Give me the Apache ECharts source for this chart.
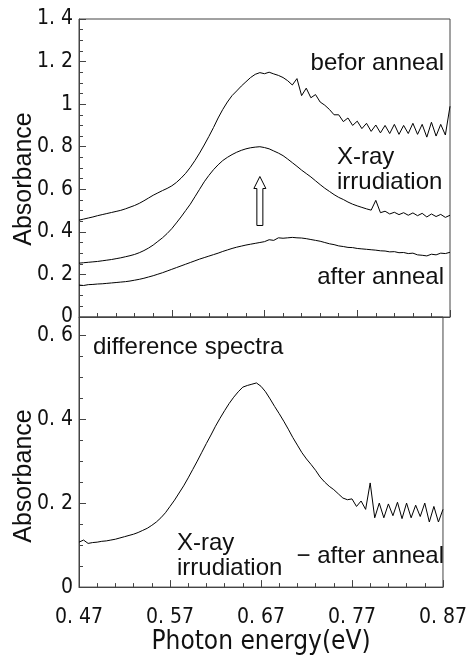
<!DOCTYPE html>
<html>
<head>
<meta charset="utf-8">
<title>Absorbance spectra</title>
<script src="https://cdn.jsdelivr.net/npm/echarts@6/dist/echarts.min.js"></script>
<style>
  html, body { margin: 0; padding: 0; background: #fff; }
  #chart { width: 470px; height: 656px; }
</style>
</head>
<body>
<div id="chart"></div>
<script>
// photon energy (eV), shared by all curves
const energy = [
  0.470, 0.475, 0.480, 0.485, 0.490, 0.495, 0.500, 0.505, 0.510, 0.515,
  0.520, 0.525, 0.530, 0.535, 0.540, 0.545, 0.550, 0.555, 0.560, 0.565,
  0.570, 0.575, 0.580, 0.585, 0.590, 0.595, 0.600, 0.605, 0.610, 0.615,
  0.620, 0.625, 0.630, 0.635, 0.640, 0.645, 0.650, 0.655, 0.660, 0.665,
  0.670, 0.675, 0.680, 0.685, 0.690, 0.695, 0.700, 0.705, 0.710, 0.715,
  0.720, 0.725, 0.730, 0.735, 0.740, 0.745, 0.750, 0.755, 0.760, 0.765,
  0.770, 0.775, 0.780, 0.785, 0.790, 0.795, 0.800, 0.805, 0.810, 0.815,
  0.820, 0.825, 0.830, 0.835, 0.840, 0.845, 0.850, 0.855, 0.860, 0.865,
  0.870
]

const beforAnneal = [
  0.455, 0.460, 0.465, 0.470, 0.476, 0.481, 0.486, 0.491, 0.496, 0.501,
  0.508, 0.516, 0.524, 0.534, 0.546, 0.559, 0.572, 0.583, 0.594, 0.604,
  0.616, 0.632, 0.652, 0.675, 0.703, 0.735, 0.770, 0.808, 0.848, 0.890,
  0.935, 0.975, 1.010, 1.040, 1.062, 1.085, 1.105, 1.125, 1.140, 1.148,
  1.143, 1.150, 1.142, 1.135, 1.125, 1.110, 1.090, 1.120, 1.040, 1.075,
  1.030, 1.045, 1.010, 0.995, 0.975, 0.950, 0.950, 0.918, 0.935, 0.900,
  0.920, 0.885, 0.910, 0.872, 0.902, 0.865, 0.900, 0.862, 0.905, 0.858,
  0.900, 0.862, 0.910, 0.858, 0.905, 0.845, 0.915, 0.850, 0.905, 0.855,
  0.990
]

const xrayIrrad = [
  0.253, 0.255, 0.257, 0.259, 0.261, 0.264, 0.267, 0.270, 0.274, 0.278,
  0.283, 0.288, 0.294, 0.302, 0.312, 0.324, 0.338, 0.355, 0.372, 0.392,
  0.415, 0.442, 0.470, 0.500, 0.530, 0.565, 0.600, 0.635, 0.665, 0.692,
  0.715, 0.735, 0.750, 0.763, 0.774, 0.783, 0.790, 0.795, 0.798, 0.800,
  0.796, 0.790, 0.780, 0.770, 0.758, 0.742, 0.725, 0.708, 0.690, 0.674,
  0.658, 0.640, 0.622, 0.605, 0.590, 0.575, 0.562, 0.552, 0.540, 0.530,
  0.522, 0.515, 0.508, 0.502, 0.548, 0.490, 0.497, 0.484, 0.492, 0.481,
  0.490, 0.478, 0.489, 0.476, 0.487, 0.470, 0.484, 0.472, 0.482, 0.468,
  0.478
]

const afterAnneal = [
  0.150, 0.148, 0.152, 0.153, 0.155, 0.156, 0.158, 0.160, 0.162, 0.164,
  0.166, 0.169, 0.173, 0.177, 0.182, 0.188, 0.194, 0.201, 0.208, 0.216,
  0.224, 0.232, 0.240, 0.248, 0.256, 0.264, 0.272, 0.279, 0.286, 0.293,
  0.300, 0.308, 0.315, 0.322, 0.328, 0.333, 0.338, 0.342, 0.346, 0.350,
  0.354, 0.363, 0.360, 0.372, 0.370, 0.372, 0.374, 0.372, 0.371, 0.368,
  0.364, 0.360, 0.356, 0.350, 0.344, 0.340, 0.334, 0.331, 0.327, 0.326,
  0.322, 0.320, 0.318, 0.316, 0.314, 0.311, 0.310, 0.306, 0.307, 0.302,
  0.303, 0.298, 0.300, 0.292, 0.290, 0.287, 0.295, 0.292, 0.300, 0.298,
  0.304
]

const difference = [
  0.107, 0.112, 0.104, 0.106, 0.107, 0.109, 0.110, 0.112, 0.114, 0.117,
  0.120, 0.123, 0.126, 0.130, 0.135, 0.140, 0.147, 0.155, 0.165, 0.177,
  0.192, 0.207, 0.224, 0.241, 0.260, 0.280, 0.300, 0.321, 0.342, 0.362,
  0.383, 0.402, 0.420, 0.437, 0.452, 0.465, 0.476, 0.480, 0.483, 0.486,
  0.478, 0.465, 0.448, 0.430, 0.413, 0.395, 0.376, 0.356, 0.338, 0.320,
  0.305, 0.292, 0.278, 0.262, 0.250, 0.240, 0.232, 0.222, 0.212, 0.208,
  0.210, 0.192, 0.205, 0.185, 0.248, 0.165, 0.200, 0.165, 0.198, 0.170,
  0.202, 0.163, 0.200, 0.165, 0.195, 0.168, 0.200, 0.155, 0.192, 0.155,
  0.185
]

// hollow arrow in the upper panel (data coords)
const arrowX = 0.665
const arrowFrom = 0.43
const arrowTo = 0.66

function pairs (ys) {
  return energy.map(function (x, i) { return [x, ys[i]] })
}
function fmtY (v) {
  if (Math.abs(v) < 1e-9) return '0'
  if (Math.abs(v - 1) < 1e-9) return '1'
  return v.toFixed(1).replace('.', '. ')
}
function fmtX (v) {
  return v.toFixed(2).replace('.', '. ')
}

const tickFont = "'Liberation Sans Narrow', 'DejaVu Sans Condensed', sans-serif"
const textFont = "'Liberation Sans', Arial, sans-serif"
const axisColor = '#444'

function xAxisOf (grid, showLabel) {
  return {
    type: 'value',
    gridIndex: grid,
    min: 0.47,
    max: 0.87,
    interval: 0.1,
    splitLine: { show: false },
    axisLine: { lineStyle: { color: axisColor, width: 1 } },
    axisTick: { inside: true, length: 7, lineStyle: { color: axisColor } },
    minorTick: { show: true, splitNumber: 5, length: 4, lineStyle: { color: axisColor } },
    axisLabel: {
      show: showLabel,
      formatter: fmtX,
      margin: 20,
      color: '#111',
      fontFamily: tickFont,
      fontSize: 21
    },
    name: showLabel ? 'Photon energy(eV)' : '',
    nameLocation: 'middle',
    nameGap: 38,
    nameTextStyle: { color: '#111', fontFamily: tickFont, fontSize: 26 }
  }
}

function yAxisOf (grid, max) {
  return {
    type: 'value',
    gridIndex: grid,
    min: 0,
    max: max,
    interval: 0.2,
    splitLine: { show: false },
    axisLine: { show: true, lineStyle: { color: axisColor, width: 1 } },
    axisTick: { inside: true, length: 7, lineStyle: { color: axisColor } },
    minorTick: { show: true, splitNumber: 4, length: 4, lineStyle: { color: axisColor } },
    axisLabel: {
      formatter: fmtY,
      showMaxLabel: max === 1.4,
      margin: 6,
      color: '#111',
      fontFamily: tickFont,
      fontSize: 21
    }
  }
}

function lineOf (name, ys, xi) {
  return {
    name: name,
    type: 'line',
    xAxisIndex: xi,
    yAxisIndex: xi,
    data: pairs(ys),
    showSymbol: false,
    animation: false,
    lineStyle: { color: '#000', width: 1 }
  }
}

function label (text, x, y, align) {
  return {
    type: 'text',
    x: x,
    y: y,
    style: {
      text: text,
      fill: '#111',
      font: '24px ' + textFont,
      align: align || 'left',
      verticalAlign: 'middle'
    }
  }
}

const chart = echarts.init(document.getElementById('chart'))
const option = {
  animation: false,
  grid: [
    { left: 79, right: 20, top: 19, height: 298, show: true, borderColor: axisColor, borderWidth: 1 },
    { left: 79, right: 20, top: 317, height: 283, show: true, borderColor: axisColor, borderWidth: 1 }
  ],
  xAxis: [xAxisOf(0, false), xAxisOf(1, true)],
  yAxis: [yAxisOf(0, 1.4), yAxisOf(1, 0.643)],
  series: [
    lineOf('befor anneal', beforAnneal, 0),
    lineOf('X-ray irrudiation', xrayIrrad, 0),
    lineOf('after anneal', afterAnneal, 0),
    lineOf('difference spectra', difference, 1)
  ]
}
chart.setOption(option)

// arrow and texts
const tip = chart.convertToPixel({ xAxisIndex: 0, yAxisIndex: 0 }, [arrowX, arrowTo])
const base = chart.convertToPixel({ xAxisIndex: 0, yAxisIndex: 0 }, [arrowX, arrowFrom])
const sw = 3
const hw = 6
const hl = 12
const graphics = [
  {
    type: 'polygon',
    shape: {
      points: [
        [tip[0], tip[1]],
        [tip[0] + hw, tip[1] + hl],
        [tip[0] + sw, tip[1] + hl],
        [base[0] + sw, base[1]],
        [base[0] - sw, base[1]],
        [tip[0] - sw, tip[1] + hl],
        [tip[0] - hw, tip[1] + hl]
      ]
    },
    style: { fill: '#fff', stroke: '#000', lineWidth: 1 }
  },
  {
    type: 'text',
    x: 24,
    y: 179,
    rotation: Math.PI / 2,
    style: { text: 'Absorbance', fill: '#111', font: '25px ' + textFont, align: 'center', verticalAlign: 'middle' }
  },
  {
    type: 'text',
    x: 24,
    y: 476,
    rotation: Math.PI / 2,
    style: { text: 'Absorbance', fill: '#111', font: '25px ' + textFont, align: 'center', verticalAlign: 'middle' }
  },
  label('befor anneal', 444, 63, 'right'),
  label('X-ray', 337, 157),
  label('irrudiation', 337, 182),
  label('after anneal', 444, 277, 'right'),
  label('difference spectra', 93, 347),
  label('X-ray', 177, 543),
  label('irrudiation', 177, 568),
  label('\u2212 after anneal', 444, 556, 'right')
]
chart.setOption({ graphic: graphics })
</script>
</body>
</html>
